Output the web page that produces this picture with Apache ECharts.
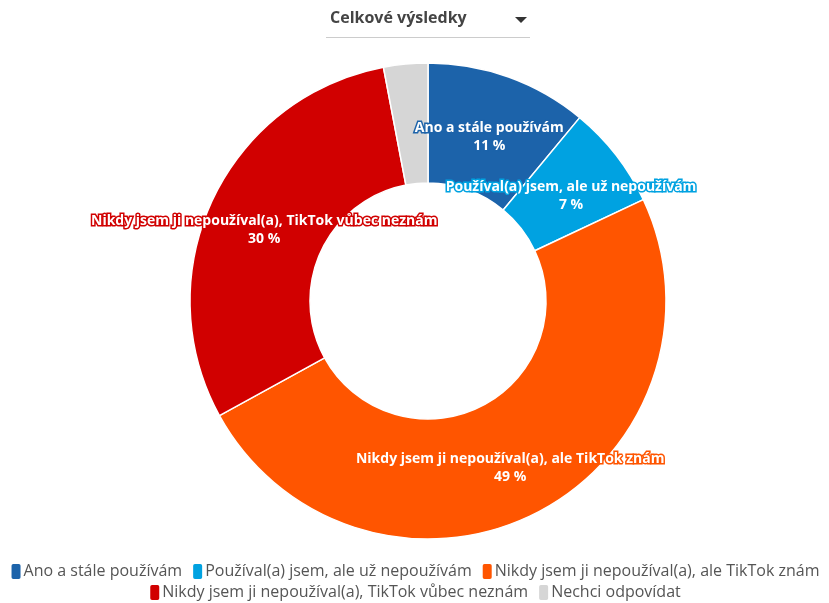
<!DOCTYPE html>
<html><head><meta charset="utf-8">
<script src="https://cdn.jsdelivr.net/npm/echarts@6/dist/echarts.min.js"></script>
<style>html,body{margin:0;padding:0;background:#fff}#c{width:829px;height:603px}</style>
</head><body><div id="c"></div>
<script>
const categories = ["Ano a stále používám","Používal(a) jsem, ale už nepoužívám","Nikdy jsem ji nepoužíval(a), ale TikTok znám","Nikdy jsem ji nepoužíval(a), TikTok vůbec neznám","Nechci odpovídat"];
const values = [11, 7, 49, 30, 3];
const colors = ["#1c63aa","#00a2e1","#ff5500","#d10000","#d6d6d6"];
const showLabel = [true, true, true, true, false];
const FONT = "Open Sans";
const chart = echarts.init(document.getElementById('c'));
const legendCommon = {
  left: 'center', orient: 'horizontal',
  icon: 'roundRect', itemWidth: 11, itemHeight: 17, itemGap: 9,
  textStyle: {fontFamily: FONT, fontSize: 16, color: '#555', padding:[0,0,0,-3]}
};
chart.setOption({
  animation: false,
  color: colors,
  graphic: [
    {type:'text', left: 330, top: 10, style:{text:'Celkové výsledky', font:'bold 16px '+FONT, fill:'#444'}},
    {type:'polygon', shape:{points:[[515,17],[527,17],[521,23]]}, style:{fill:'#333'}},
    {type:'line', shape:{x1:326,y1:37.5,x2:530,y2:37.5}, style:{stroke:'#ccc', lineWidth:1}}
  ],
  legend: [
    Object.assign({top: 557, data: categories.slice(0,3)}, legendCommon),
    Object.assign({top: 578, data: categories.slice(3)}, legendCommon)
  ],
  series: [{
    type: 'pie',
    center: [428, 301],
    radius: [118, 238],
    startAngle: 90,
    clockwise: true,
    avoidLabelOverlap: false,
    itemStyle: {borderColor: '#fff', borderWidth: 1.5},
    label: {
      position: 'inside',
      offset: [0, 6],
      formatter: p => p.name + '\n' + p.value + ' %',
      fontFamily: FONT, fontWeight: 'bold', fontSize: 14, color: '#fff',
      lineHeight: 18, textBorderWidth: 3
    },
    labelLine: {show:false},
    emphasis: {disabled: true},
    data: categories.map((n,i)=>({name:n, value:values[i],
      label:{show: showLabel[i], textBorderColor: colors[i]}}))
  }]
});
</script></body></html>
